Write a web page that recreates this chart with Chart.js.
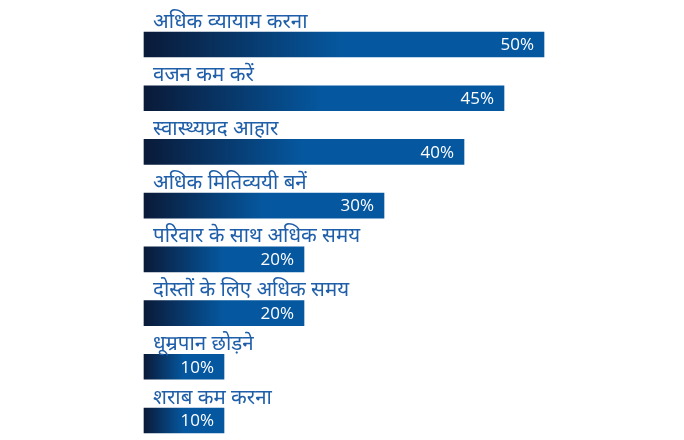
<!DOCTYPE html>
<html>
<head>
<meta charset="utf-8">
<script src="https://cdn.jsdelivr.net/npm/chart.js@4"></script>
<style>
  html, body { margin: 0; padding: 0; background: #fff; }
  #wrap { width: 684px; height: 440px; position: relative; }
</style>
</head>
<body>
<div id="wrap"><canvas id="myChart" width="684" height="440"></canvas></div>
<script>
const categories = [
    'अधिक व्यायाम करना',
    'वजन कम करें',
    'स्वास्थ्यप्रद आहार',
    'अधिक मितिव्ययी बनें',
    'परिवार के साथ अधिक समय',
    'दोस्तों के लिए अधिक समय',
    'धूम्रपान छोड़ने',
    'शराब कम करना'
];
const values = [50, 45, 40, 30, 20, 20, 10, 10];

const darkNavy = '#0a1a38';
const midBlue = '#0558a0';
const labelBlue = '#1f5ea8';

// category text above each bar, value text inside the bar end
const barText = {
    id: 'barText',
    afterDatasetsDraw(chart) {
        const ctx = chart.ctx;
        const meta = chart.getDatasetMeta(0);
        ctx.save();
        meta.data.forEach((bar, i) => {
            ctx.fillStyle = labelBlue;
            ctx.font = '20.5px "Noto Sans Devanagari", "Noto Sans", sans-serif';
            ctx.textAlign = 'left';
            ctx.textBaseline = 'alphabetic';
            ctx.fillText(categories[i], bar.base + 9, bar.y - 17);

            ctx.fillStyle = '#fff';
            ctx.font = '17px "Open Sans", sans-serif';
            ctx.textAlign = 'right';
            ctx.textBaseline = 'middle';
            ctx.fillText(values[i] + '%', bar.x - 10, bar.y + 1);
        });
        ctx.restore();
    }
};

const ctx = document.getElementById('myChart').getContext('2d');
let chart = new Chart(ctx, {
    type: 'bar',
    data: {
        labels: categories,
        datasets: [{
            data: values,
            barThickness: 25,
            clip: false,
            backgroundColor: function (context) {
                const c = context.chart;
                if (!c.chartArea || !c.scales.x) return midBlue;
                const x0 = c.scales.x.getPixelForValue(0);
                const x1 = c.scales.x.getPixelForValue(values[context.dataIndex]);
                const g = c.ctx.createLinearGradient(x0, 0, x1, 0);
                g.addColorStop(0, darkNavy);
                g.addColorStop(0.5, midBlue);
                g.addColorStop(1, midBlue);
                return g;
            }
        }]
    },
    options: {
        indexAxis: 'y',
        responsive: false,
        animation: false,
        layout: { padding: { left: 144, right: 140, top: 44.5, bottom: 19.5 } },
        scales: {
            x: { display: false, min: 0, max: 50 },
            y: { display: false, offset: false }
        },
        plugins: {
            legend: { display: false },
            tooltip: { enabled: false }
        }
    },
    plugins: [barText]
});
</script>
</body>
</html>
